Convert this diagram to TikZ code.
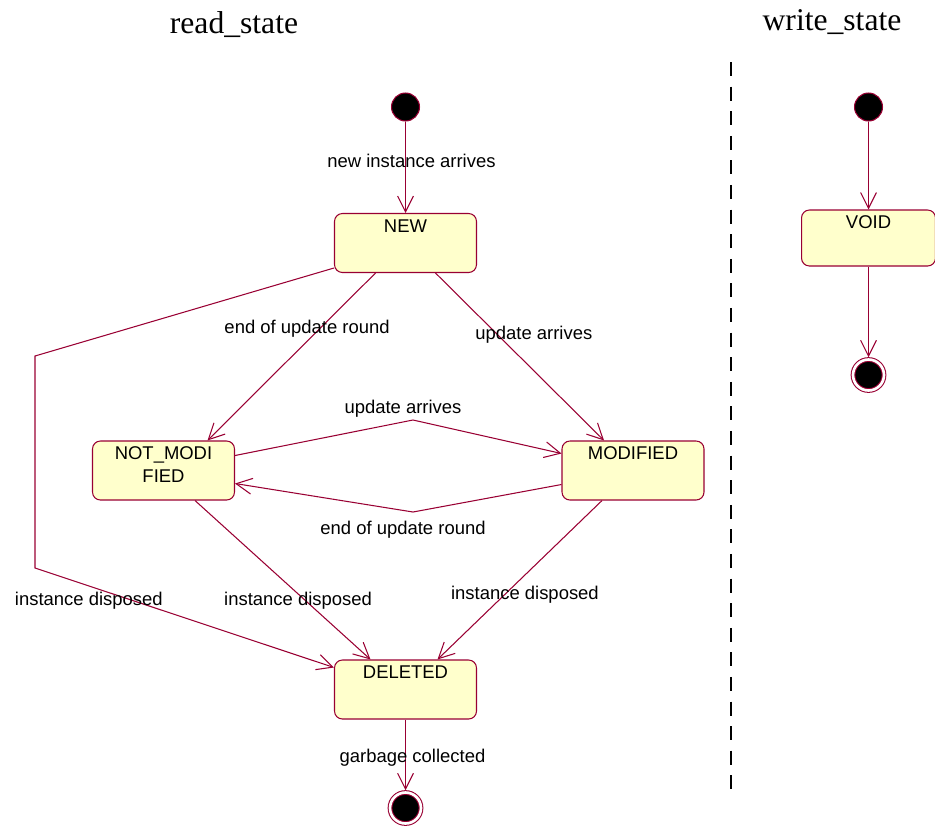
\documentclass[tikz,border=0pt]{standalone}
\usepackage{fontspec}
\setmainfont{Liberation Serif}
\setsansfont{Liberation Sans}
\usetikzlibrary{arrows.meta,calc,positioning}
\definecolor{umlred}{RGB}{153,0,51}
\definecolor{umlfill}{RGB}{255,255,204}

\begin{document}
\begin{tikzpicture}[x=0.02cm,y=-0.02cm,>={Straight Barb[length=9pt,width=9pt]}]
            \tikzstyle{state}=[rectangle,rounded corners=4.5pt,draw=umlred,fill=umlfill,line width=0.6pt,minimum width=2.84cm,minimum height=1.18cm]
            \tikzstyle{txt}=[font=\sffamily\fontsize{10.5}{13}\selectfont,inner sep=1pt]
            \tikzstyle{intxt}=[txt,anchor=north,inner sep=3.5pt,align=center]
            \tikzstyle{title}=[font=\fontsize{18}{20}\selectfont]

            \tikzstyle{every edge}=[draw=umlred,line width=0.6pt]

            \tikzstyle{start}=[circle,draw=umlred,fill=black,line width=0.6pt,minimum size=0.56cm,inner sep=0pt]      % initial state
            \tikzstyle{finish}=[circle,draw=umlred,fill=black,line width=0.6pt,double=white,double distance=1.5pt,minimum size=0.62cm,inner sep=0pt,outer sep=1.3pt] % final state

            \useasboundingbox (0,0) rectangle (935,825);

            \node[title] (rd) at (234,25) {read\_state};
            \node[title] (wr) at (832,22) {write\_state};

            \draw[dash pattern=on 8pt off 6pt,line width=0.9pt] (731,62) -- (731,792);

            % read_state
            \node[start] (s0) at (405.5,107) {};
            \node[state,label={[intxt]north:NEW}] (new) at (405.5,243) {};
            \node[state,label={[intxt]north:NOT\_MODI\\FIED}] (nm) at (163.5,470.5) {};
            \node[state,label={[intxt]north:MODIFIED}] (mod) at (633,470.5) {};
            \node[state,label={[intxt]north:DELETED}] (del) at (405.5,689.5) {};
            \node[finish] (s1) at (405.5,808) {};

            % write_state
            \node[start] (w0) at (868.5,107) {};
            \node[state,minimum width=2.68cm,minimum height=1.12cm,label={[intxt]north:VOID}] (void) at (868.5,238) {};
            \node[finish] (w1) at (868.5,375) {};

            \coordinate (up) at (413,420);
            \coordinate (down) at (413,512);
            \coordinate (c1) at (35,356);
            \coordinate (c2) at (35,568);

            \path[->] (s0) edge node[txt,pos=0.43,xshift=0.12cm] {new instance arrives} (new);
            \path[->] ($(new.south)+(-30,0)$) edge node[txt,pos=0.33,xshift=-0.26cm] {end of update round} ($(nm.north)+(44,0)$);
            \path[->] ($(new.south)+(30,0)$) edge node[txt,pos=0.37,xshift=0.72cm] {update arrives} ($(mod.north)+(-29,0)$);
            \draw[->,draw=umlred,line width=0.6pt] ($(nm.east)+(0,-15)$) -- (up) node[txt,above,xshift=-0.2cm] {update arrives} -- ($(mod.west)+(0,-17)$);
            \draw[->,draw=umlred,line width=0.6pt] ($(mod.west)+(0,14)$) -- (down) node[txt,below,xshift=-0.2cm,yshift=-4pt] {end of update round} -- ($(nm.east)+(0,13)$);
            \path[->] ($(nm.south)+(31.5,0)$) edge node[txt,pos=0.63,xshift=-0.15cm] {instance disposed} ($(del.north)+(-35,0)$);
            \path[->] ($(mod.south)+(-31,0)$) edge node[txt,pos=0.59,xshift=0.4cm] {instance disposed} ($(del.north)+(32,0)$);
            \draw[->,draw=umlred,line width=0.6pt] ($(new.west)+(0,25)$) -- (c1) -- (c2) -- node[txt,pos=0.18,below,yshift=-2pt] {instance disposed} ($(del.west)+(0,-22)$);
            \path[->] (del) edge node[txt,pos=0.49,xshift=0.14cm,yshift=-2pt] {garbage collected} (s1);

            \path[->] (w0) edge (void);
            \path[->] (void) edge (w1);
        \end{tikzpicture}
\end{document}
